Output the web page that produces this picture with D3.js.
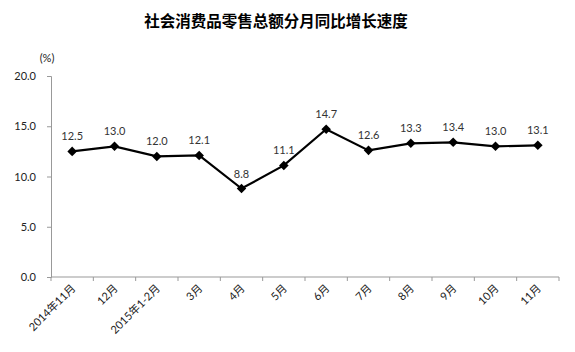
<!DOCTYPE html>
<html>
<head>
<meta charset="utf-8">
<script src="https://cdn.jsdelivr.net/npm/d3@7"></script>
<style>
	body { margin:0; background:#fff; }
	svg text { font-family: Lato, "Noto Sans CJK SC", sans-serif; }
	.title { font-family: "Noto Sans CJK SC", sans-serif; font-weight:bold; font-size:15.5px; fill:#000; }
	.tick text { font-size:11px; fill:#222; }
	.val { font-size:11px; fill:#333; }
</style>
</head>
<body>
<svg id="chart" width="575" height="352"></svg>
<script>
// months and year-on-year growth (%)
const months = ['2014年11月','12月','2015年1-2月','3月','4月','5月','6月','7月','8月','9月','10月','11月'];
const growth = [12.5, 13.0, 12.0, 12.1, 8.8, 11.1, 14.7, 12.6, 13.3, 13.4, 13.0, 13.1];
const yTicks = [0, 5, 10, 15, 20];

const svg = d3.select('#chart');
const margin = {top:76, right:16, bottom:75, left:51};
const W = +svg.attr('width');
const H = +svg.attr('height');
const innerWidth = W - margin.left - margin.right;
const innerHeight = H - margin.top - margin.bottom;

const data = months.map((m,i)=>({month:m, value:growth[i]}));

const xScale = d3.scaleBand()
	.domain(months)
	.range([0,innerWidth]);

const yScale = d3.scaleLinear()
	.domain([0,20])
	.range([innerHeight,0]);

const g = svg.append('g')
	.attr('transform',`translate(${margin.left},${margin.top})`);

// title
svg.append('text')
	.attr('class','title')
	.attr('x',276)
	.attr('y',27)
	.attr('text-anchor','middle')
	.text('社会消费品零售总额分月同比增长速度');

svg.append('text')
	.attr('x',47)
	.attr('y',62)
	.attr('text-anchor','middle')
	.attr('font-size',11)
	.attr('fill','#222')
	.text('(%)');

// y axis
const yAxis = d3.axisLeft(yScale)
	.tickValues(yTicks)
	.tickFormat(d3.format('.1f'))
	.tickSize(4)
	.tickPadding(11);
const yAxisG = g.append('g').call(yAxis);
yAxisG.select('.domain').attr('stroke','#999');
yAxisG.selectAll('.tick line').attr('stroke','#999');

// x axis with ticks at band edges
const xAxisG = g.append('g')
	.attr('transform',`translate(0,${innerHeight})`);
xAxisG.append('line')
	.attr('x1',0).attr('x2',innerWidth)
	.attr('stroke','#999');
const edges = months.map(m=>xScale(m)).concat([innerWidth]);
xAxisG.selectAll('line.tk').data(edges).enter().append('line')
	.attr('class','tk')
	.attr('x1',d=>d).attr('x2',d=>d)
	.attr('y1',0).attr('y2',4)
	.attr('stroke','#999');
xAxisG.selectAll('text.lbl').data(months).enter().append('text')
	.attr('class','lbl')
	.attr('font-size',11)
	.attr('fill','#222')
	.attr('text-anchor','end')
	.attr('transform',d=>`translate(${xScale(d)+xScale.bandwidth()/2+4},${12}) rotate(-45)`)
	.text(d=>d);

// line
const lineGenerator = d3.line()
	.x(d=>xScale(d.month)+xScale.bandwidth()/2)
	.y(d=>yScale(d.value));

g.append('path')
	.attr('d',lineGenerator(data))
	.attr('fill','none')
	.attr('stroke','#000')
	.attr('stroke-width',2.2);

g.selectAll('path.marker').data(data).enter().append('path')
	.attr('class','marker')
	.attr('d',d3.symbol().type(d3.symbolDiamond2).size(58))
	.attr('transform',d=>`translate(${xScale(d.month)+xScale.bandwidth()/2},${yScale(d.value)})`)
	.attr('fill','#000');

g.selectAll('text.val').data(data).enter().append('text')
	.attr('class','val')
	.attr('text-anchor','middle')
	.attr('x',d=>xScale(d.month)+xScale.bandwidth()/2)
	.attr('y',d=>yScale(d.value)-11)
	.text(d=>d.value.toFixed(1));
</script>
</body>
</html>
